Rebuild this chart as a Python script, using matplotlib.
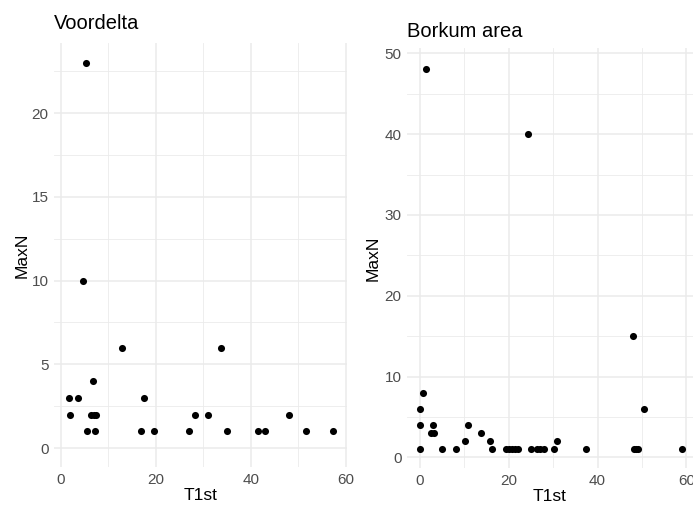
import numpy as np
import matplotlib
matplotlib.use("Agg")
import matplotlib.pyplot as plt
from matplotlib.ticker import MultipleLocator

plt.rcParams['font.family'] = ['Liberation Sans', 'DejaVu Sans']

# Voordelta: time of first arrival vs max count
vd_t1st = [5.35, 4.65, 13.0, 33.7, 6.8, 1.7, 3.7, 17.6,
           2.0, 6.5, 7.0, 7.5, 28.3, 31.0, 48.0,
           5.55, 7.3, 16.9, 19.7, 27.0, 34.9, 41.5, 42.9, 51.5, 57.2]
vd_maxn = [23, 10, 6, 6, 4, 3, 3, 3,
           2, 2, 2, 2, 2, 2, 2,
           1, 1, 1, 1, 1, 1, 1, 1, 1, 1]

# Borkum area
bk_t1st = [1.35, 24.25, 48.0, 0.7, 0.1, 50.4,
           0.0, 2.9, 10.9, 2.5, 3.2, 13.7,
           10.2, 15.7, 30.9,
           0.0, 5.0, 8.1, 16.3, 19.3, 20.0, 20.7, 21.4, 22.1,
           25.0, 26.3, 27.1, 27.9, 30.1, 37.3, 48.2, 48.6, 49.1, 59.0]
bk_maxn = [48, 40, 15, 8, 6, 6,
           4, 4, 4, 3, 3, 3,
           2, 2, 2,
           1, 1, 1, 1, 1, 1, 1, 1, 1,
           1, 1, 1, 1, 1, 1, 1, 1, 1, 1]

W, H = 693, 509
fig = plt.figure(figsize=(W / 100, H / 100), dpi=100)


def panel(px_left, px_right, px_top, px_bottom):
    return fig.add_axes([px_left / W, (H - px_bottom) / H,
                         (px_right - px_left) / W, (px_bottom - px_top) / H])


def style(ax, xmaj, ymaj, ylabpad):
    for s in ax.spines.values():
        s.set_visible(False)
    ax.xaxis.set_major_locator(MultipleLocator(xmaj))
    ax.xaxis.set_minor_locator(MultipleLocator(xmaj / 2))
    ax.yaxis.set_major_locator(MultipleLocator(ymaj))
    ax.yaxis.set_minor_locator(MultipleLocator(ymaj / 2))
    ax.grid(True, which='major', color='#EBEBEB', linewidth=1.1)
    ax.grid(True, which='minor', color='#EBEBEB', linewidth=0.6)
    ax.set_axisbelow(True)
    ax.tick_params(which='both', length=0, labelsize=11, labelcolor='#4D4D4D', pad=4)
    ax.set_xlabel('T1st', fontsize=12.5, labelpad=1)
    ax.set_ylabel('MaxN', fontsize=12.5, labelpad=ylabpad)


ax1 = panel(54, 347, 43, 467)
ax1.scatter(vd_t1st, vd_maxn, s=26, color='black', zorder=3, linewidths=0)
ax1.set_xlim(-1.37, 60.2)
ax1.set_ylim(-1.13, 24.18)
style(ax1, 20, 5, 1)
ax1.set_title('Voordelta', loc='left', fontsize=14.5, pad=10)

ax2 = panel(407, 693, 48, 468)
ax2.scatter(bk_t1st, bk_maxn, s=26, color='black', zorder=3, linewidths=0)
ax2.set_xlim(-2.93, 61.5)
ax2.set_ylim(-1.32, 50.66)
style(ax2, 20, 10, 3)
ax2.set_title('Borkum area', loc='left', fontsize=14.5, pad=8)

fig.savefig('out.png', dpi=100)
